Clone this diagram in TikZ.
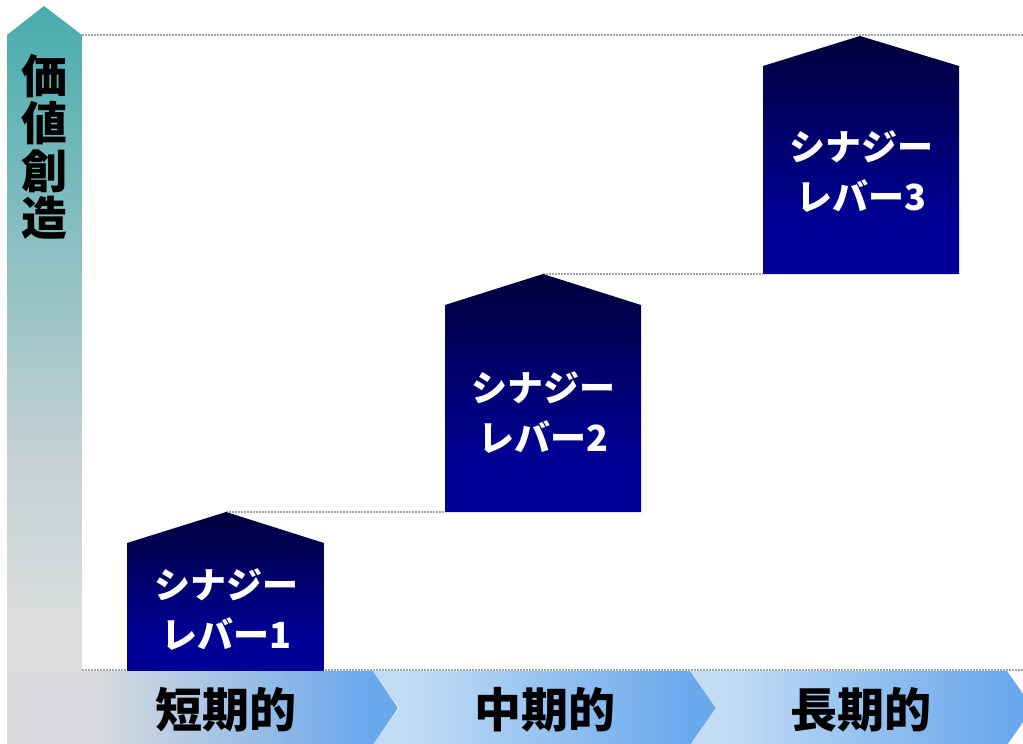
\documentclass[tikz,border=0pt]{standalone}
\usepackage{fontspec}
\newfontfamily\jp{Noto Sans CJK JP}
\definecolor{axistop}{HTML}{48ACAE}
\definecolor{axismid}{HTML}{C3D0D2}
\definecolor{axisbot}{HTML}{DCDDDE}
\definecolor{housetop}{HTML}{00003C}
\definecolor{housebot}{HTML}{000096}
\definecolor{bandgray}{HTML}{D9DBDE}
\definecolor{bandlight}{HTML}{C2DCF6}
\definecolor{bandblue}{HTML}{6AA8EC}
\pgfdeclareverticalshading{axisshade}{100bp}{color(0bp)=(axisbot); color(33bp)=(axisbot); color(45bp)=(axismid); color(75bp)=(axistop); color(100bp)=(axistop)}
\pgfdeclareverticalshading{houseshade}{100bp}{color(0bp)=(housebot); color(36bp)=(housebot); color(75bp)=(housetop); color(100bp)=(housetop)}
\pgfdeclarehorizontalshading{shortshade}{100bp}{color(0bp)=(bandgray); color(36bp)=(bandgray); color(71bp)=(bandblue); color(100bp)=(bandblue)}
\pgfdeclarehorizontalshading{midshade}{100bp}{color(0bp)=(bandlight); color(30bp)=(bandlight); color(71bp)=(bandblue); color(100bp)=(bandblue)}
\begin{document}
\begin{tikzpicture}[x=1pt,y=-1pt,
        dotline/.style={draw=gray!70, line width=1.2pt, dash pattern=on 1.6pt off 1.4pt},
        lever/.style={text=white, font=\jp\bfseries\fontsize{36}{50}\selectfont, align=center, inner sep=0pt},
        term/.style={font=\jp\bfseries\fontsize{47}{50}\selectfont, inner sep=0pt}]
        \useasboundingbox (0,0) rectangle (1023,744);
        \coordinate (apex1) at (226,512);
        \coordinate (apex2) at (543,274);
        \coordinate (apex3) at (860,36);
        \coordinate (foot2) at (445,512);
        \coordinate (foot3) at (763,274);
        % value axis
        \shade[shading=axisshade] (7,745) -- (7,35) -- (44,6) -- (82,35) -- (82,745) -- cycle;
        \node[font=\jp\bfseries\fontsize{46}{47.5}\selectfont, align=center, inner sep=0pt] (value) at (44,147) {価\\値\\創\\造};
        % guide lines
        \draw[dotline] (82,35) -- (1023,35);
        \draw[dotline] (82,670) -- (1023,670);
        \draw[dotline] (apex1) -- (foot2);
        \draw[dotline] (apex2) -- (foot3);
        % levers
        \shade[shading=houseshade] (127,671) -- (127,543) -- (apex1) -- (324,543) -- (324,671) -- cycle;
        \shade[shading=houseshade] (foot2) -- (445,305) -- (apex2) -- (641,305) -- (641,512) -- cycle;
        \shade[shading=houseshade] (foot3) -- (763,66) -- (apex3) -- (959,66) -- (959,274) -- cycle;
        \node[lever] (lever1) at (226,610) {シナジー\\レバー1};
        \node[lever] (lever2) at (543,413) {シナジー\\レバー2};
        \node[lever] (lever3) at (861,172) {シナジー\\レバー3};
        % time band
        \shade[shading=shortshade] (7,671) -- (373,671) -- (398,708) -- (373,745) -- (7,745) -- cycle;
        \shade[shading=midshade] (373,671) -- (690,671) -- (716,708) -- (690,745) -- (373,745) -- (399,708) -- cycle;
        \shade[shading=midshade] (690,671) -- (1007,671) -- (1033,708) -- (1007,745) -- (690,745) -- (716,708) -- cycle;
        \node[term] (short) at (226,710) {短期的};
        \node[term] (middle) at (545,710) {中期的};
        \node[term] (long) at (861,710) {長期的};
    \end{tikzpicture}
\end{document}
